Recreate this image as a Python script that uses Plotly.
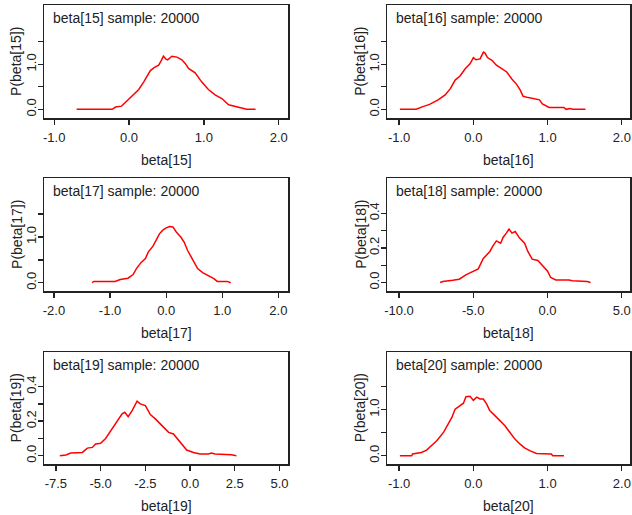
import plotly.graph_objects as go

# ---------------- data ----------------
names = ["beta[15]", "beta[16]", "beta[17]", "beta[18]", "beta[19]", "beta[20]"]
sample_size = 20000

x15 = [-0.70, -0.50, -0.30, -0.225, -0.18, -0.10, -0.05, 0.00, 0.05, 0.13, 0.197, 0.24, 0.285, 0.34, 0.396,
       0.43, 0.46, 0.49, 0.516, 0.573, 0.64, 0.706, 0.75, 0.795, 0.84, 0.883, 0.97, 1.06, 1.15, 1.24, 1.33,
       1.41, 1.50, 1.57, 1.69]
d15 = [0.00, 0.00, 0.00, 0.00, 0.05, 0.07, 0.15, 0.23, 0.30, 0.44, 0.61, 0.72, 0.86, 0.93, 0.98,
       1.08, 1.18, 1.12, 1.10, 1.18, 1.16, 1.10, 1.02, 0.91, 0.86, 0.81, 0.61, 0.44, 0.32, 0.24, 0.10,
       0.07, 0.035, 0.00, 0.00]

x16 = [-0.99, -0.77, -0.68, -0.59, -0.475, -0.38, -0.31, -0.245, -0.18, -0.11, -0.045, 0.00, 0.035, 0.09,
       0.135, 0.157, 0.19, 0.25, 0.31, 0.38, 0.45, 0.515, 0.58, 0.63, 0.67, 0.74, 0.83, 0.89, 0.93, 1.02,
       1.11, 1.22, 1.25, 1.30, 1.34, 1.51]
d16 = [0.00, 0.00, 0.06, 0.11, 0.21, 0.32, 0.46, 0.65, 0.74, 0.90, 1.01, 1.15, 1.10, 1.12,
       1.27, 1.25, 1.15, 1.09, 0.98, 0.90, 0.83, 0.68, 0.56, 0.43, 0.29, 0.26, 0.23, 0.21, 0.12, 0.04,
       0.04, 0.04, 0.00, 0.02, 0.00, 0.00]

x17 = [-1.32, -1.29, -0.91, -0.82, -0.68, -0.59, -0.53, -0.45, -0.37, -0.32, -0.235, -0.18, -0.12, -0.06,
       0.00, 0.06, 0.12, 0.18, 0.26, 0.32, 0.38, 0.47, 0.56, 0.65, 0.76, 0.85, 0.91, 1.09, 1.15]
d17 = [0.00, 0.03, 0.03, 0.07, 0.10, 0.18, 0.31, 0.44, 0.53, 0.67, 0.80, 0.93, 1.07, 1.15,
       1.20, 1.23, 1.22, 1.11, 1.00, 0.89, 0.71, 0.51, 0.31, 0.22, 0.15, 0.09, 0.03, 0.03, 0.00]

x18 = [-7.23, -7.05, -6.38, -5.94, -5.50, -5.00, -4.66, -4.33, -3.88, -3.66, -3.44, -3.15, -2.99, -2.77,
       -2.59, -2.39, -2.17, -1.88, -1.54, -1.32, -1.03, -0.65, -0.31, 0.00, 0.22, 0.56, 1.45, 1.68, 2.68, 2.90]
d18 = [0.000, 0.006, 0.013, 0.019, 0.044, 0.067, 0.079, 0.137, 0.179, 0.213, 0.240, 0.227, 0.260, 0.285,
       0.308, 0.285, 0.294, 0.256, 0.227, 0.179, 0.135, 0.127, 0.096, 0.067, 0.029, 0.015, 0.015, 0.010, 0.006, 0.000]

x19 = [-7.28, -6.94, -6.67, -6.02, -5.74, -5.46, -5.28, -5.00, -4.72, -4.35, -4.07, -3.80, -3.65, -3.46,
       -3.24, -2.96, -2.78, -2.50, -2.22, -1.94, -1.57, -1.20, -0.93, -0.56, -0.19, 0.19, 0.56, 1.02, 1.20,
       1.39, 2.31, 2.59]
d19 = [0.000, 0.004, 0.015, 0.019, 0.044, 0.048, 0.068, 0.072, 0.100, 0.155, 0.203, 0.242, 0.251, 0.226,
       0.261, 0.315, 0.300, 0.290, 0.238, 0.213, 0.174, 0.135, 0.126, 0.081, 0.033, 0.019, 0.010, 0.010, 0.015,
       0.010, 0.006, 0.000]

x20 = [-0.99, -0.83, -0.82, -0.70, -0.63, -0.56, -0.49, -0.40, -0.335, -0.29, -0.246, -0.18, -0.134, -0.10,
       -0.045, 0.00, 0.045, 0.09, 0.134, 0.18, 0.22, 0.29, 0.36, 0.425, 0.49, 0.56, 0.63, 0.69, 0.76, 0.85,
       1.05, 1.07, 1.22]
d20 = [0.00, 0.00, 0.036, 0.07, 0.12, 0.22, 0.33, 0.51, 0.69, 0.83, 1.01, 1.09, 1.14, 1.28,
       1.29, 1.20, 1.27, 1.23, 1.23, 1.12, 0.98, 0.87, 0.76, 0.65, 0.51, 0.36, 0.25, 0.17, 0.11, 0.05,
       0.036, 0.00, 0.00]

xs = [x15, x16, x17, x18, x19, x20]
ds = [d15, d16, d17, d18, d19, d20]

# tick labels
xtick_vals = [[-1, 0, 1, 2], [-1, 0, 1, 2], [-2, -1, 0, 1, 2], [-10, -5, 0, 5],
              [-7.5, -5, -2.5, 0, 2.5, 5], [-1, 0, 1, 2]]
xtick_text = [["-1.0", "0.0", "1.0", "2.0"], ["-1.0", "0.0", "1.0", "2.0"],
              ["-2.0", "-1.0", "0.0", "1.0", "2.0"], ["-10.0", "-5.0", "0.0", "5.0"],
              ["-7.5", "-5.0", "-2.5", "0.0", "2.5", "5.0"], ["-1.0", "0.0", "1.0", "2.0"]]
ytick_big = [0, 0.5, 1.0, 1.5]
ytick_big_text = ["0.0", "", "1.0", ""]
ytick_small = [0, 0.1, 0.2, 0.3, 0.4]
ytick_small_text = ["0.0", "", "0.2", "", "0.4"]

# ---------------- layout geometry ----------------
W, H = 632, 515
col_px = [(41.7, 287.3), (386.7, 631.0)]
row_px = [(5, 118), (178, 291), (352, 464)]
x_ranges = [[-1.13, 2.13], [-1.16, 2.11], [-2.17, 2.18], [-10.79, 5.56], [-8.14, 5.5], [-1.16, 2.11]]
y_ranges = [[-0.193, 2.318], [-0.193, 2.318], [-0.18, 2.29], [-0.049, 0.603], [-0.048, 0.60], [-0.18, 2.25]]
ytitle_px = [13.5, 359.5]

FONT = "Arial, 'Liberation Sans', sans-serif"
INK = "#222222"

fig = go.Figure()
layout = dict(width=W, height=H, margin=dict(l=0, r=0, t=0, b=0),
              paper_bgcolor="white", plot_bgcolor="white", showlegend=False,
              font=dict(family=FONT, color=INK))
annotations = []

for i in range(6):
    r, c = divmod(i, 2)
    k = "" if i == 0 else str(i + 1)
    xa, ya = "xaxis" + k, "yaxis" + k
    xr, yr = "x" + k, "y" + k
    fig.add_trace(go.Scatter(x=xs[i], y=ds[i], mode="lines", xaxis=xr, yaxis=yr,
                             line=dict(color="#ff0000", width=1.5), hoverinfo="skip"))
    x0, x1 = col_px[c]
    t0, t1 = row_px[r]
    small = i in (3, 4)
    layout[xa] = dict(domain=[x0 / W, x1 / W], range=x_ranges[i], anchor=yr,
                      showgrid=False, zeroline=False, showline=True, mirror=True,
                      linecolor=INK, linewidth=1.5, ticks="outside", ticklen=5,
                      tickwidth=1.3, tickcolor=INK, tickmode="array",
                      tickvals=xtick_vals[i], ticktext=xtick_text[i], ticklabelstandoff=2,
                      tickfont=dict(size=13, family=FONT, color=INK), fixedrange=True)
    layout[ya] = dict(domain=[1 - t1 / H, 1 - t0 / H], range=y_ranges[i], anchor=xr,
                      showgrid=False, zeroline=False, showline=True, mirror=True,
                      linecolor=INK, linewidth=1.5, ticks="outside", ticklen=5,
                      tickwidth=1.3, tickcolor=INK, tickmode="array",
                      tickvals=ytick_small if small else ytick_big,
                      ticktext=ytick_small_text if small else ytick_big_text,
                      tickangle=-90, ticklabelstandoff=-3,
                      tickfont=dict(size=13, family=FONT, color=INK), fixedrange=True)
    # inner title
    annotations.append(dict(text=f"{names[i]} sample: {sample_size}", xref=xr + " domain",
                            yref=yr + " domain", x=0, y=1, xanchor="left", yanchor="middle",
                            xshift=6.5, yshift=-13, showarrow=False,
                            font=dict(size=14, family=FONT, color=INK)))
    # x title
    annotations.append(dict(text=names[i], xref=xr + " domain", yref=yr + " domain",
                            x=0.5, y=0, xanchor="center", yanchor="middle", yshift=-42,
                            showarrow=False, font=dict(size=14, family=FONT, color=INK)))
    # y title
    annotations.append(dict(text=f"P({names[i]})", xref="paper", yref=yr + " domain",
                            x=ytitle_px[c] / W, y=0.5, xanchor="center", yanchor="middle",
                            textangle=-90, showarrow=False,
                            font=dict(size=14, family=FONT, color=INK)))

layout["annotations"] = annotations
fig.update_layout(**layout)
fig.write_html("out.html", config={"displayModeBar": False, "staticPlot": True},
               post_script="document.body.style.margin='0';document.body.style.overflow='hidden';")
